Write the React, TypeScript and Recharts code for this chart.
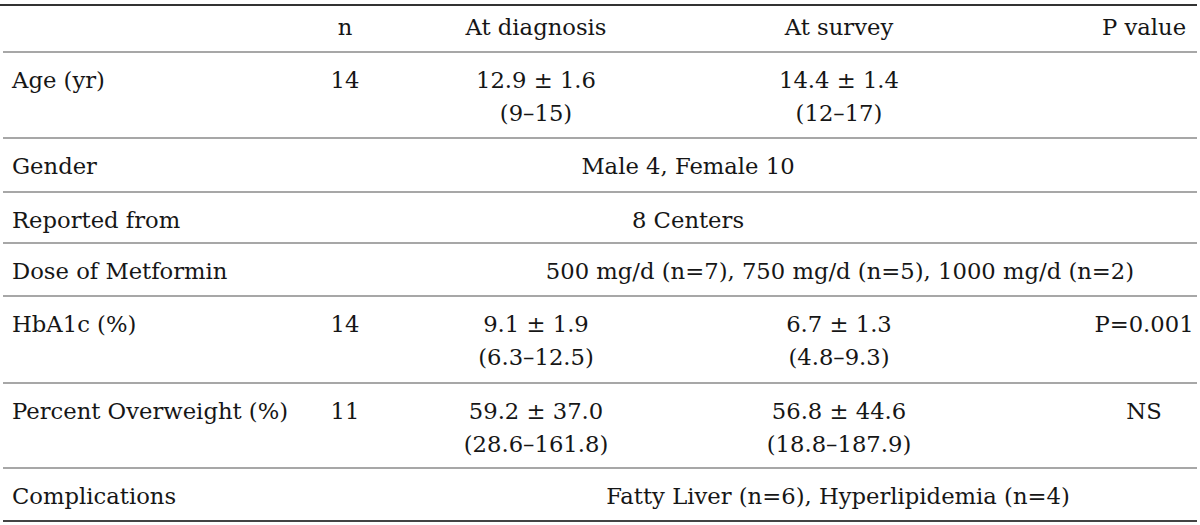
import { ScatterChart, Scatter, XAxis, YAxis, ReferenceLine } from 'recharts';

const headers = ['', 'n', 'At diagnosis', 'At survey', 'P value'];
const rowLabels = ['Age (yr)', 'Gender', 'Reported from', 'Dose of Metformin', 'HbA1c (%)', 'Percent Overweight (%)', 'Complications'];
const nValues = ['14', '', '', '', '14', '11', ''];
const diagnosisMean = ['12.9 ± 1.6', '', '', '', '9.1 ± 1.9', '59.2 ± 37.0', ''];
const diagnosisRange = ['(9–15)', '', '', '', '(6.3–12.5)', '(28.6–161.8)', ''];
const surveyMean = ['14.4 ± 1.4', '', '', '', '6.7 ± 1.3', '56.8 ± 44.6', ''];
const surveyRange = ['(12–17)', '', '', '', '(4.8–9.3)', '(18.8–187.9)', ''];
const pValues = ['', '', '', '', 'P=0.001', 'NS', ''];
const spanning = ['', 'Male 4, Female 10', '8 Centers', '500 mg/d (n=7), 750 mg/d (n=5), 1000 mg/d (n=2)', '', '', 'Fatty Liver (n=6), Hyperlipidemia (n=4)'];

// layout (pixel units on the hidden axes)
const W = 1200;
const H = 525;
const colX = [12, 345, 536, 839, 1144];
const spanX = [0, 688, 688, 840, 0, 0, 838];
const headerTop = 5;
const rowTops = [52, 138, 192, 243, 296, 383, 468];
const tableBottom = 521;
const firstLine = 36;
const secondLine = 69;

type Cell = { x: number; y: number; text: string; anchor: string };

const cells: Cell[] = [];
headers.forEach((h, i) => {
  if (h) cells.push({ x: colX[i], y: headerTop + 30, text: h, anchor: 'middle' });
});
rowLabels.forEach((label, r) => {
  const top = rowTops[r];
  cells.push({ x: colX[0], y: top + firstLine, text: label, anchor: 'start' });
  const cols = [nValues[r], diagnosisMean[r], surveyMean[r], pValues[r]];
  cols.forEach((t, c) => {
    if (t) cells.push({ x: colX[c + 1], y: top + firstLine, text: t, anchor: 'middle' });
  });
  if (diagnosisRange[r]) cells.push({ x: colX[2], y: top + secondLine, text: diagnosisRange[r], anchor: 'middle' });
  if (surveyRange[r]) cells.push({ x: colX[3], y: top + secondLine, text: surveyRange[r], anchor: 'middle' });
  if (spanning[r]) cells.push({ x: spanX[r], y: top + firstLine, text: spanning[r], anchor: 'middle' });
});

const TextCell = (props: any) => {
  const { cx, cy, payload } = props;
  return (
    <text x={cx} y={cy} textAnchor={payload.anchor} fontFamily="DejaVu Serif" fontSize={22.7} fill="#161616">
      {payload.text}
    </text>
  );
};

export default function App() {
  return (
    <div style={{ position: 'absolute', left: 0, top: 0, background: '#fff' }}>
      <ScatterChart width={W} height={H} margin={{ top: 0, right: 0, bottom: 0, left: 0 }}>
        <XAxis type="number" dataKey="x" domain={[0, W]} hide allowDataOverflow />
        <YAxis type="number" dataKey="y" domain={[0, H]} reversed hide allowDataOverflow />
        <ReferenceLine segment={[{ x: 0, y: headerTop }, { x: 1197, y: headerTop }]} stroke="#333" strokeWidth={2} />
        {rowTops.map((t) => (
          <ReferenceLine key={t} segment={[{ x: 3, y: t }, { x: 1197, y: t }]} stroke="#8a8a8a" strokeWidth={1.5} />
        ))}
        <ReferenceLine segment={[{ x: 3, y: tableBottom }, { x: 1197, y: tableBottom }]} stroke="#444" strokeWidth={2} />
        <Scatter data={cells} shape={TextCell} isAnimationActive={false} />
      </ScatterChart>
    </div>
  );
}
